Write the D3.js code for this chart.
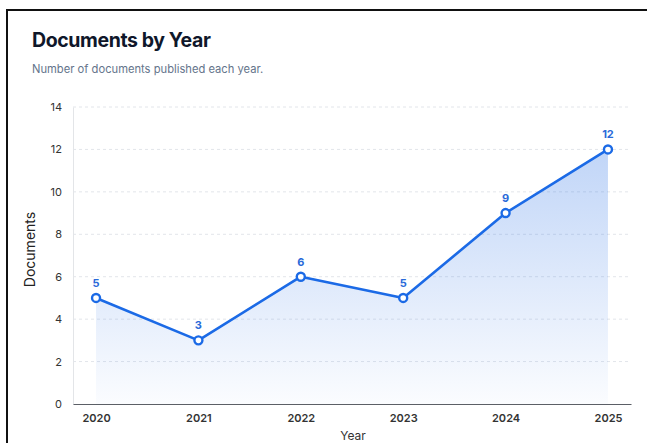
<!DOCTYPE html>
<html>
<head>
<meta charset="utf-8">
<script src="https://cdn.jsdelivr.net/npm/d3@7"></script>
<style>
  body { margin: 0; background: #fff; }
  svg { display: block; font-family: Inter, "Noto Sans", sans-serif; }
</style>
</head>
<body>
<div id="chart"></div>
<script>
const years = ['2020', '2021', '2022', '2023', '2024', '2025'];
const docs = [5, 3, 6, 5, 9, 12];
const yTicks = [0, 2, 4, 6, 8, 10, 12, 14];

const W = 647, H = 443;
const margin = { top: 107, right: 16, bottom: 39, left: 73 };
const innerW = W - margin.left - margin.right;
const innerH = H - margin.top - margin.bottom;

const svg = d3.select('#chart').append('svg')
    .attr('width', W)
    .attr('height', H);

// card frame (cropped at right/bottom)
svg.append('rect')
    .attr('x', 7).attr('y', 10)
    .attr('width', W + 10).attr('height', H + 10)
    .attr('fill', '#fff')
    .attr('stroke', '#111')
    .attr('stroke-width', 2);

svg.append('text')
    .attr('x', 32).attr('y', 47)
    .attr('font-size', 19.5)
    .attr('font-weight', 700)
    .attr('fill', '#0f172a')
    .attr('letter-spacing', -0.4)
    .text('Documents by Year');

svg.append('text')
    .attr('x', 32).attr('y', 73)
    .attr('font-size', 11.2)
    .attr('fill', '#64748b')
    .text('Number of documents published each year.');

const g = svg.append('g')
    .attr('transform', `translate(${margin.left},${margin.top})`);

const x = d3.scalePoint()
    .domain(years)
    .range([0, innerW])
    .padding(0.225);

const y = d3.scaleLinear()
    .domain([0, 14])
    .range([innerH, 0]);

// gradient for the area
const defs = svg.append('defs');
const grad = defs.append('linearGradient')
    .attr('id', 'areaGrad')
    .attr('gradientUnits', 'userSpaceOnUse')
    .attr('x1', 0).attr('x2', 0)
    .attr('y1', y(12)).attr('y2', innerH);
grad.append('stop').attr('offset', '0%').attr('stop-color', '#2f74e6').attr('stop-opacity', 0.3);
grad.append('stop').attr('offset', '100%').attr('stop-color', '#2f74e6').attr('stop-opacity', 0.02);

// grid
g.append('g')
    .selectAll('line')
    .data(yTicks.filter(d => d > 0))
    .enter().append('line')
    .attr('x1', 0).attr('x2', innerW)
    .attr('y1', d => y(d)).attr('y2', d => y(d))
    .attr('stroke', '#e2e5ea')
    .attr('stroke-dasharray', '3,3')
    .attr('stroke-width', 1);

// y axis
const yAxis = g.append('g')
    .call(d3.axisLeft(y).tickValues(yTicks).tickSize(0).tickPadding(11));
yAxis.select('.domain').attr('stroke', '#e3e5e8');
yAxis.selectAll('text')
    .attr('font-size', 11)
    .attr('font-family', 'Inter, sans-serif')
    .attr('fill', '#333');

// x axis
const xAxis = g.append('g')
    .attr('transform', `translate(0,${innerH})`)
    .call(d3.axisBottom(x).tickSize(0).tickPadding(10));
xAxis.select('.domain').attr('stroke', '#5b5f66').attr('stroke-width', 1.2);
xAxis.selectAll('text')
    .attr('font-size', 11)
    .attr('font-weight', 600)
    .attr('font-family', 'Inter, sans-serif')
    .attr('fill', '#333');

// axis titles
svg.append('text')
    .attr('transform', `translate(35,${margin.top + innerH / 2 - 6}) rotate(-90)`)
    .attr('text-anchor', 'middle')
    .attr('font-size', 14)
    .attr('fill', '#222')
    .text('Documents');

svg.append('text')
    .attr('x', margin.left + innerW / 2 + 1)
    .attr('y', 440)
    .attr('text-anchor', 'middle')
    .attr('font-size', 12)
    .attr('fill', '#333')
    .text('Year');

const area = d3.area()
    .x((d, i) => x(years[i]))
    .y0(innerH)
    .y1(d => y(d));

const line = d3.line()
    .x((d, i) => x(years[i]))
    .y(d => y(d));

g.append('path')
    .datum(docs)
    .attr('d', area)
    .attr('fill', 'url(#areaGrad)');

g.append('path')
    .datum(docs)
    .attr('d', line)
    .attr('fill', 'none')
    .attr('stroke', '#1b6ae6')
    .attr('stroke-width', 2.6)
    .attr('stroke-linejoin', 'round');

g.selectAll('circle.pt')
    .data(docs)
    .enter().append('circle')
    .attr('class', 'pt')
    .attr('cx', (d, i) => x(years[i]))
    .attr('cy', d => y(d))
    .attr('r', 4)
    .attr('fill', '#fff')
    .attr('stroke', '#1b6ae6')
    .attr('stroke-width', 2.4);

g.selectAll('text.val')
    .data(docs)
    .enter().append('text')
    .attr('class', 'val')
    .attr('x', (d, i) => x(years[i]))
    .attr('y', d => y(d) - 11)
    .attr('text-anchor', 'middle')
    .attr('font-size', 11)
    .attr('font-weight', 700)
    .attr('fill', '#2a6ad9')
    .text(d => d);
</script>
</body>
</html>
